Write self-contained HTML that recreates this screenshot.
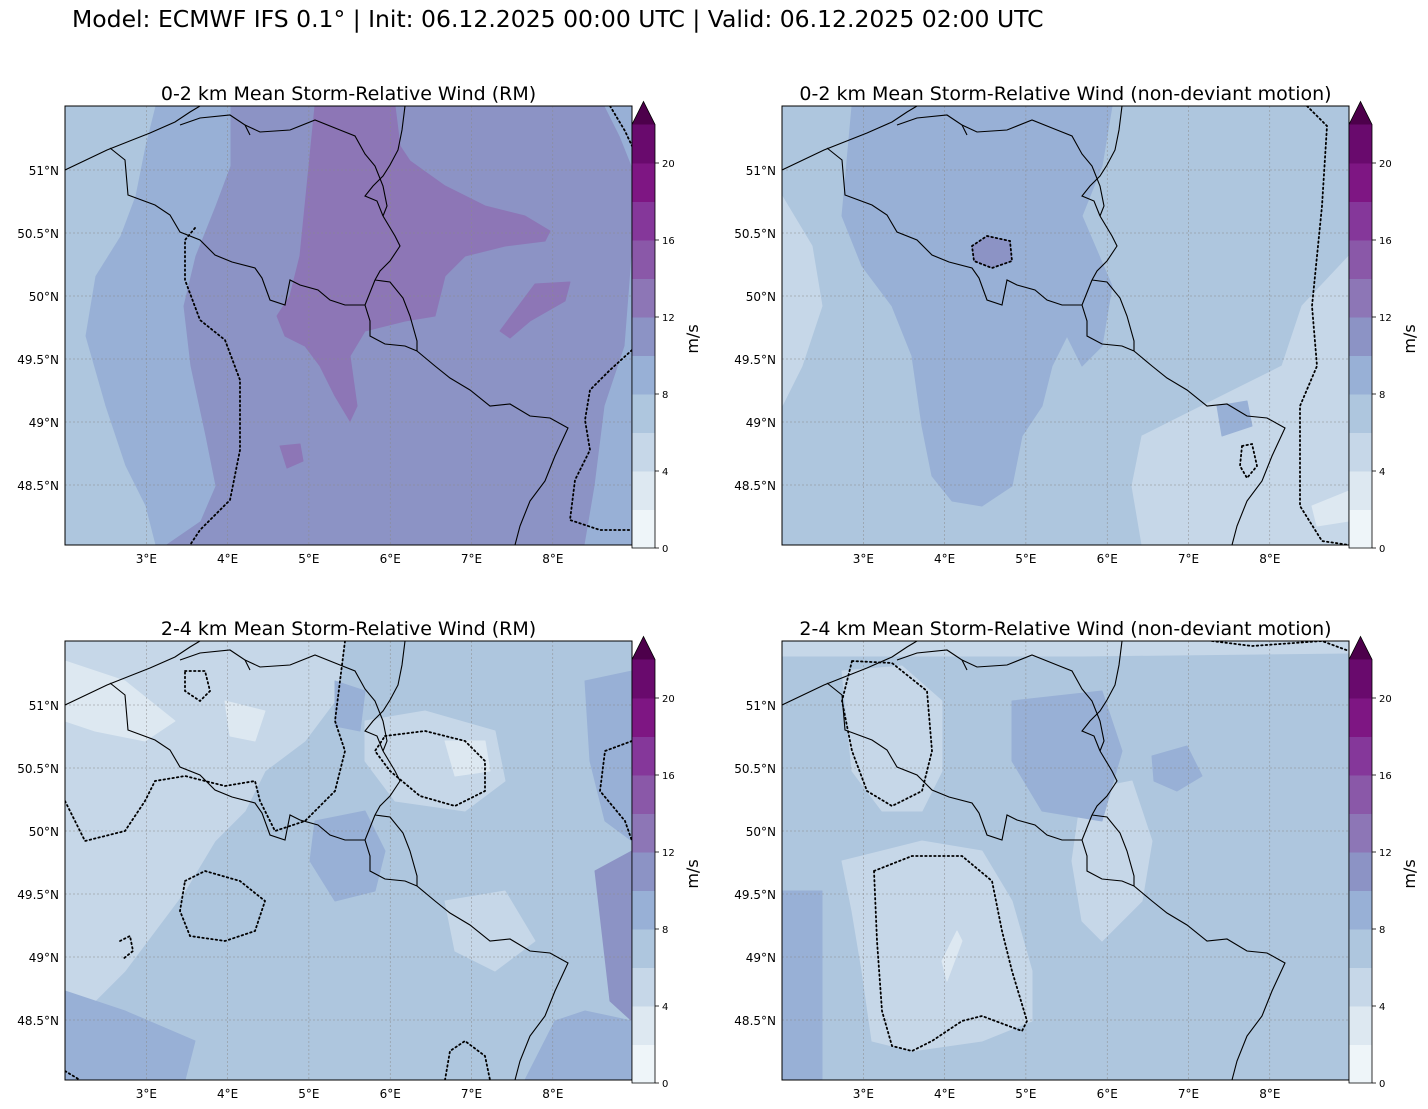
<!DOCTYPE html>
<html><head><meta charset="utf-8">
<style>
body{margin:0;background:#fff;font-family:"DejaVu Sans",sans-serif;}
svg{display:block}
</style></head>
<body>
<svg id="fig" width="1428" height="1109" xmlns="http://www.w3.org/2000/svg" font-family="DejaVu Sans, sans-serif">
<text x="72" y="27" font-size="23.5">Model: ECMWF IFS 0.1° | Init: 06.12.2025 00:00 UTC | Valid: 06.12.2025 02:00 UTC</text>
</svg>
<script>
const lonTicks=[3,4,5,6,7,8];
const latTicks=[51,50.5,50,49.5,49,48.5];
const cbLevels=[0,2,4,6,8,10,12,14,16,18,20,22];
const cbTicks=[0,4,8,12,16,20];
const cbColors=["#eef5f9","#dde8f1","#c6d7e8","#aec6de","#98b0d6","#8c93c5","#8d76b6","#8a58a8","#85379a","#7e1683","#690a6d"];
const cbExtend="#4d004b";
const titles=["0-2 km Mean Storm-Relative Wind (RM)","0-2 km Mean Storm-Relative Wind (non-deviant motion)","2-4 km Mean Storm-Relative Wind (RM)","2-4 km Mean Storm-Relative Wind (non-deviant motion)"];
const panels=[[65,106],[782,106],[65,641],[782,641]];
const W=567,H=439;
const NS="http://www.w3.org/2000/svg";
const fig=document.getElementById('fig');
function el(t,a,p){const e=document.createElementNS(NS,t);for(const k in a)e.setAttribute(k,a[k]);(p||fig).appendChild(e);return e;}
function xLon(l){return (l-2)*81.3;}
function yLat(l){return 64+(51-l)*126;}
const C=cbColors;
const fields=[
 {bg:C[5],regs:[
  [C[4],[[0,0],[165,0],[165,60],[150,100],[130,150],[118,200],[125,260],[140,330],[150,380],[135,415],[100,439],[0,439]]],
  [C[3],[[0,0],[90,0],[80,40],[70,90],[55,130],[30,170],[20,230],[40,300],[60,360],[80,400],[90,439],[0,439]]],
  [C[4],[[567,150],[560,240],[540,300],[530,380],[520,439],[567,439]]],
  [C[4],[[540,0],[567,0],[567,60],[555,30]]],
  [C[6],[[250,0],[330,0],[335,40],[345,55],[380,80],[420,100],[460,110],[485,125],[480,135],[440,140],[400,150],[380,170],[370,210],[340,215],[300,225],[285,250],[292,300],[285,315],[270,290],[255,260],[240,240],[220,230],[212,210],[225,190],[235,150],[240,100],[245,50]]],
  [C[6],[[435,225],[470,178],[505,176],[500,195],[465,215],[445,232]]],
  [C[6],[[215,340],[235,338],[238,355],[222,362]]]
 ],dots:[
  [[130,122],[120,134],[120,174],[135,214],[160,234],[175,274],[175,344],[165,394],[135,424],[125,439]],
  [[545,0],[560,25],[567,40]],
  [[567,244],[545,264],[525,284],[520,314],[525,344],[510,374],[505,414],[535,424],[567,424]]
 ]},
 {bg:C[3],regs:[
  [C[2],[[567,150],[520,200],[500,260],[440,290],[400,310],[360,330],[350,380],[360,439],[567,439]]],
  [C[2],[[0,90],[30,140],[40,200],[20,260],[0,300]]],
  [C[4],[[70,0],[330,0],[320,60],[300,110],[330,180],[320,240],[300,260],[285,230],[270,260],[260,300],[240,330],[230,380],[200,400],[170,395],[150,370],[140,320],[130,250],[110,200],[80,160],[60,110]]],
  [C[4],[[435,300],[465,295],[470,320],[440,330]]],
  [C[1],[[530,400],[567,385],[567,415],[535,420]]],
  [C[5],[[190,140],[205,130],[228,135],[230,155],[210,162],[192,155]]]
 ],dots:[
  [[525,0],[545,20],[540,100],[530,200],[535,260],[518,300],[518,350],[518,400],[540,435],[567,439]],
  [[190,140],[205,130],[228,135],[230,155],[210,162],[192,155],[190,140]],
  [[460,340],[470,338],[475,360],[465,372],[458,360],[460,340]]
 ]},
 {bg:C[3],regs:[
  [C[2],[[0,0],[280,0],[270,60],[240,100],[200,130],[180,170],[150,200],[120,250],[90,290],[60,330],[30,360],[0,380]]],
  [C[2],[[300,80],[360,70],[430,90],[440,140],[400,170],[330,160],[300,120]]],
  [C[2],[[380,260],[440,250],[470,300],[430,330],[390,310]]],
  [C[1],[[0,20],[60,40],[110,80],[80,100],[30,90],[0,80]]],
  [C[1],[[160,60],[200,70],[190,100],[165,95]]],
  [C[1],[[380,100],[420,100],[425,130],[390,135]]],
  [C[4],[[250,180],[300,170],[320,210],[310,250],[270,260],[245,220]]],
  [C[4],[[520,40],[567,30],[567,200],[540,180],[525,120]]],
  [C[5],[[530,230],[567,210],[567,380],[545,360]]],
  [C[4],[[0,350],[60,370],[130,400],[120,439],[0,439]]],
  [C[4],[[460,439],[490,380],[520,370],[567,380],[567,439]]],
  [C[4],[[270,40],[300,50],[295,90],[270,85]]]
 ],dots:[
  [[0,160],[10,180],[20,200],[60,190],[80,160],[90,140],[120,135],[160,145],[190,140],[195,160],[210,190],[240,180],[270,150],[280,110],[270,80],[275,40],[280,0]],
  [[120,30],[140,30],[145,50],[135,60],[120,50],[120,30]],
  [[120,240],[140,230],[175,240],[200,260],[190,290],[160,300],[125,295],[115,270],[120,240]],
  [[320,95],[360,90],[400,100],[420,120],[420,150],[390,165],[355,155],[325,130],[310,110],[320,95]],
  [[55,300],[65,295],[68,310],[58,318]],
  [[567,100],[540,110],[535,150],[560,180],[567,200]],
  [[380,439],[385,410],[400,400],[420,415],[425,439]],
  [[0,430],[15,439]]
 ]},
 {bg:C[3],regs:[
  [C[2],[[0,0],[567,0],[567,12],[300,15],[0,15]]],
  [C[2],[[60,30],[120,25],[160,60],[160,130],[140,170],[100,170],[70,130]]],
  [C[2],[[60,220],[140,200],[200,210],[230,260],[250,330],[250,380],[200,400],[130,410],[90,400],[80,330],[70,270]]],
  [C[2],[[300,150],[350,140],[370,200],[360,260],[320,300],[300,280],[290,220]]],
  [C[1],[[160,320],[175,290],[180,300],[165,340]]],
  [C[4],[[0,250],[40,250],[40,439],[0,439]]],
  [C[4],[[370,115],[405,105],[420,135],[395,150],[372,140]]],
  [C[4],[[230,60],[320,50],[340,110],[320,180],[260,170],[230,120]]]
 ],dots:[
  [[70,20],[110,22],[145,50],[150,110],[140,150],[110,165],[85,150],[70,110],[60,60],[70,20]],
  [[92,230],[130,215],[180,215],[210,240],[220,290],[230,330],[245,380],[240,390],[200,375],[180,380],[150,400],[130,410],[110,405],[100,370],[95,300],[92,230]],
  [[430,0],[470,5],[540,0],[567,10]]
 ]}
];
const borders=[
 [[0,64],[42,44],[85,27],[110,16],[125,6],[135,0]],
 [[115,19],[135,12],[165,9],[180,19],[185,29]],
 [[45,42],[60,54],[63,89],[90,99],[105,109],[115,126],[135,134],[150,149],[167,156],[190,162],[197,172],[205,194],[220,199],[225,174],[235,179],[253,184],[265,194],[280,199],[300,199]],
 [[180,19],[195,26],[225,24],[250,14],[275,24],[290,30],[300,48],[310,60],[318,80],[322,100],[318,110]],
 [[340,0],[337,24],[333,44],[325,59],[318,70],[308,80],[300,90],[312,95],[318,110]],
 [[318,110],[330,130],[335,140],[325,155],[315,165],[310,174]],
 [[310,174],[300,199],[305,215],[305,230],[320,238],[340,240],[352,245]],
 [[310,174],[325,176],[338,192],[345,210],[352,235],[352,245]],
 [[352,245],[370,260],[385,272],[405,284],[425,300],[445,298],[465,310],[485,312],[503,322],[490,350],[480,375],[465,395],[455,420],[450,439]]
];
function pts(a,ox,oy){return a.map(p=>(p[0]+ox)+','+(p[1]+oy)).join(' ');}
panels.forEach((o,i)=>{
 const [ox,oy]=o;const f=fields[i];
 const g=el('g',{});
 
 
 const cp=el('clipPath',{id:'cp'+i},g);el('rect',{x:ox,y:oy,width:W,height:H},cp);
 const m=el('g',{'clip-path':'url(#cp'+i+')'},g);
 el('rect',{x:ox,y:oy,width:W,height:H,fill:f.bg},m);
 f.regs.forEach(r=>{el('polygon',{points:pts(r[1],ox,oy),fill:r[0],stroke:r[0],'stroke-width':1,'stroke-linejoin':'round'},m);});
 lonTicks.forEach(l=>el('line',{x1:ox+xLon(l),x2:ox+xLon(l),y1:oy,y2:oy+H,stroke:'#8a8a8a','stroke-width':0.5,'stroke-dasharray':'2,2'},m));
 latTicks.forEach(l=>el('line',{x1:ox,x2:ox+W,y1:oy+yLat(l),y2:oy+yLat(l),stroke:'#8a8a8a','stroke-width':0.5,'stroke-dasharray':'2,2'},m));
 f.dots.forEach(d=>{const p=el('polyline',{points:pts(d,ox,oy),fill:'none',stroke:'#000','stroke-width':1.8,'stroke-dasharray':'1.5,3','stroke-linecap':'round'},m);
  });
 borders.forEach(b=>{const p=el('polyline',{points:pts(b,ox,oy),fill:'none',stroke:'#000','stroke-width':1.1},m);
  });
 el('rect',{x:ox,y:oy,width:W,height:H,fill:'none',stroke:'#000','stroke-width':1},g);
 const t=el('text',{x:ox+W/2,y:oy-6,'font-size':19,'text-anchor':'middle'},g);t.textContent=titles[i];
 
 lonTicks.forEach(l=>{const tx=el('text',{x:ox+xLon(l),y:oy+H+18,'font-size':12,'text-anchor':'middle'},g);tx.textContent=l+'°E';
  });
 latTicks.forEach(l=>{const tx=el('text',{x:ox-6,y:oy+yLat(l)+5,'font-size':12,'text-anchor':'end'},g);tx.textContent=l+'°N';
  });
 const cx=ox+W,cb=oy+442,cw=23,step=38.5;
 const cg=el('g',{},g);
 
 function cy(v){return cb-(v/2)*step;}
 for(let k=0;k<cbColors.length;k++){el('rect',{x:cx,y:cy(cbLevels[k+1]),width:cw,height:cy(cbLevels[k])-cy(cbLevels[k+1])+0.5,fill:cbColors[k]},cg);}
 const top=cy(cbLevels[cbLevels.length-1]);
 el('polygon',{points:`${cx},${top} ${cx+cw/2},${top-23} ${cx+cw},${top}`,fill:cbExtend},cg);
 el('polygon',{points:`${cx},${cb} ${cx},${top} ${cx+cw/2},${top-23} ${cx+cw},${top} ${cx+cw},${cb}`,fill:'none',stroke:'#000','stroke-width':0.8},cg);
 cbTicks.forEach(v=>{el('line',{x1:cx+cw,x2:cx+cw+4,y1:cy(v),y2:cy(v),stroke:'#000','stroke-width':0.8},cg);
  const tx=el('text',{x:cx+cw+7,y:cy(v)+4,'font-size':10},cg);tx.textContent=v;
  });
 const lb=el('text',{x:0,y:0,'font-size':16,'text-anchor':'middle',transform:`translate(${cx+66},${oy+233}) rotate(-90)`},cg);lb.textContent='m/s';
 
});
</script>
</body></html>
